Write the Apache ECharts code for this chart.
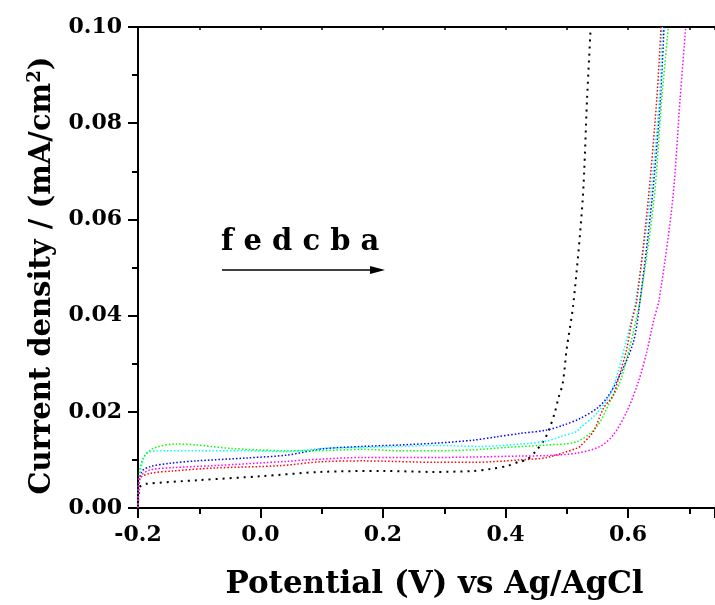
<!DOCTYPE html>
<html>
<head>
<meta charset="utf-8">
<script src="https://cdn.jsdelivr.net/npm/echarts@6/dist/echarts.min.js"></script>
<style>
html,body{margin:0;padding:0;background:#fff;}
#chart{width:715px;height:605px;}
</style>
</head>
<body>
<div id="chart"></div>
<script>
// x tick labels and y tick labels
var xTicks = [-0.2, 0.0, 0.2, 0.4, 0.6];
var yTicks = [0.00, 0.02, 0.04, 0.06, 0.08, 0.10];
var arrowLabel = 'f e d c b a';

// curve data [potential V, current density mA/cm2]
var curveBlack = [[-0.2,0],[-0.199,0.003],[-0.196,0.0045],[-0.1886,0.0050],[-0.100,0.0058],[0.0,0.0066],[0.0988,0.0075],[0.200,0.0077],[0.2816,0.0075],[0.347,0.0077],[0.3747,0.0081],[0.4046,0.0088],[0.4237,0.0097],[0.4346,0.0100],[0.450,0.0119],[0.4617,0.0139],[0.4699,0.0159],[0.4808,0.0200],[0.4862,0.0228],[0.4934,0.0259],[0.4999,0.0331],[0.5107,0.0424],[0.5260,0.0642],[0.5331,0.0849],[0.5391,0.1]];
var curveBlue = [[-0.2,0],[-0.198,0.005],[-0.194,0.0076],[-0.180,0.0086],[-0.148,0.0093],[-0.104,0.0098],[-0.0225,0.0104],[0.0428,0.0110],[0.102,0.0123],[0.167,0.0128],[0.228,0.0131],[0.288,0.0135],[0.347,0.0141],[0.386,0.0148],[0.4237,0.0155],[0.467,0.0162],[0.494,0.0172],[0.5216,0.0186],[0.549,0.0207],[0.565,0.0228],[0.584,0.0269],[0.6087,0.0345],[0.6196,0.0431],[0.6392,0.0642],[0.6527,0.0849],[0.6588,0.1]];
var curveCyan = [[-0.2,0],[-0.198,0.006],[-0.1858,0.0114],[-0.1587,0.0119],[-0.1042,0.0119],[-0.0225,0.0119],[0.0428,0.0117],[0.1025,0.0124],[0.1673,0.0126],[0.2278,0.0128],[0.2877,0.0130],[0.3584,0.0128],[0.4237,0.0133],[0.4673,0.0139],[0.489,0.0148],[0.5162,0.0159],[0.5216,0.0166],[0.5489,0.0197],[0.5706,0.0235],[0.5842,0.0286],[0.5951,0.0338],[0.6060,0.0393],[0.6131,0.0435],[0.6359,0.0642],[0.6511,0.0849],[0.6560,0.1]];
var curveGreen = [[-0.2,0],[-0.198,0.007],[-0.1913,0.0104],[-0.175,0.0124],[-0.1368,0.0133],[-0.1042,0.0131],[-0.0498,0.0124],[0.0428,0.0119],[0.0862,0.0119],[0.1678,0.0122],[0.2278,0.0119],[0.2877,0.0119],[0.3474,0.0121],[0.402,0.0126],[0.4673,0.0131],[0.5162,0.0138],[0.5489,0.0169],[0.5706,0.0221],[0.5869,0.0262],[0.5979,0.0311],[0.6087,0.0366],[0.6196,0.0431],[0.6425,0.0642],[0.6550,0.0849],[0.6658,0.1]];
var curveRed = [[-0.2,0],[-0.199,0.004],[-0.1967,0.0062],[-0.1804,0.0072],[-0.1424,0.0077],[-0.0771,0.0083],[0.0318,0.0088],[0.0971,0.0096],[0.1678,0.0098],[0.2877,0.0095],[0.3474,0.0095],[0.4237,0.0100],[0.4673,0.0105],[0.5162,0.0124],[0.5216,0.0128],[0.5434,0.0159],[0.5597,0.0207],[0.5760,0.0235],[0.5842,0.0269],[0.5979,0.0331],[0.6060,0.0387],[0.6142,0.0431],[0.6331,0.0642],[0.6469,0.0849],[0.6539,0.1]];
var curveMagenta = [[-0.2,0],[-0.199,0.005],[-0.1967,0.0066],[-0.1804,0.0079],[-0.1424,0.0084],[-0.0771,0.0088],[0.0428,0.0097],[0.0754,0.0100],[0.1678,0.0105],[0.2877,0.0105],[0.3474,0.0106],[0.4237,0.0108],[0.4673,0.0109],[0.5162,0.0114],[0.5543,0.0128],[0.5760,0.0152],[0.5979,0.0200],[0.6168,0.0262],[0.6305,0.0324],[0.6413,0.0387],[0.6510,0.0435],[0.6730,0.0642],[0.6849,0.0849],[0.6942,0.1]];

var FONT = 'DejaVu Serif';
var chart = echarts.init(document.getElementById('chart'), null, {renderer:'canvas'});

function mk(name, data, color, dash, w){
  return {type:'line', name:name, data:data, xAxisIndex:0, yAxisIndex:0, showSymbol:false, symbol:'none',
    smooth:0.3, lineStyle:{color:color, width:w, type:dash}, clip:true, animation:false};
}

var option = {
  animation:false,
  backgroundColor:'#fff',
  grid:{left:138, right:0, top:27, bottom:95, containLabel:false},
  xAxis:[{
    type:'value', min:-0.2, max:0.742, interval:0.2, position:'bottom',
    axisLine:{show:true, onZero:false, lineStyle:{color:'#000', width:2}},
    axisTick:{show:true, inside:false, length:10, lineStyle:{color:'#000', width:2}},
    minorTick:{show:true, splitNumber:2, length:6, lineStyle:{color:'#000', width:2}},
    splitLine:{show:false},
    axisLabel:{show:true, margin:16, showMaxLabel:false, color:'#000', fontFamily:FONT, fontWeight:'bold', fontSize:22,
      formatter:function(v){ return xTicks.some(function(t){return Math.abs(t-v)<1e-9;}) ? v.toFixed(1) : ''; }},
    name:'Potential (V) vs Ag/AgCl', nameLocation:'middle', nameGap:61,
    nameTextStyle:{color:'#000', fontFamily:FONT, fontWeight:'bold', fontSize:31, padding:[0,0,0,16]}
  },{
    type:'value', min:-0.2, max:0.742, interval:0.1, position:'top',
    axisLine:{show:true, onZero:false, lineStyle:{color:'#000', width:2}},
    axisTick:{show:true, inside:true, length:3, lineStyle:{color:'#000', width:1.5}},
    axisLabel:{show:false}, splitLine:{show:false}
  }],
  yAxis:[{
    type:'value', min:0, max:0.1, interval:0.02,
    axisLine:{show:true, onZero:false, lineStyle:{color:'#000', width:2}},
    axisTick:{show:true, inside:false, length:10, lineStyle:{color:'#000', width:2}},
    minorTick:{show:true, splitNumber:2, length:6, lineStyle:{color:'#000', width:2}},
    splitLine:{show:false},
    axisLabel:{show:true, margin:16, color:'#000', fontFamily:FONT, fontWeight:'bold', fontSize:22,
      formatter:function(v){ return v.toFixed(2); }},
    name:'{a|Current density / (mA/cm}{s|2}{a|)}', nameLocation:'middle', nameGap:80,
    nameTextStyle:{padding:[0,16,0,0], rich:{
      a:{color:'#000', fontFamily:FONT, fontWeight:'bold', fontSize:29},
      s:{color:'#000', fontFamily:FONT, fontWeight:'bold', fontSize:18, verticalAlign:'top', padding:[0,0,14,0]}
    }}
  }],
  series:[
    mk('f', curveBlack, '#000000', [2,5], 2),
    mk('e', curveBlue, '#0000ff', [1.5,2], 1.5),
    mk('d', curveCyan, '#00ffff', [1.5,2], 1.5),
    mk('c', curveGreen, '#00ff00', [1.5,2], 1.5),
    mk('b', curveRed, '#ff0000', [1.5,2], 1.5),
    mk('a', curveMagenta, '#ff00ff', [1.5,2], 1.5)
  ],
  graphic:[
    {type:'text', left:221, top:228, style:{text:arrowLabel, fill:'#000', font:'bold 29px "DejaVu Serif"'}},
    {type:'line', shape:{x1:222, y1:270, x2:374, y2:270}, style:{stroke:'#000', lineWidth:1.5}},
    {type:'polygon', shape:{points:[[385,270],[370,266],[370,274]]}, style:{fill:'#000'}}
  ]
};
chart.setOption(option);
</script>
</body>
</html>
